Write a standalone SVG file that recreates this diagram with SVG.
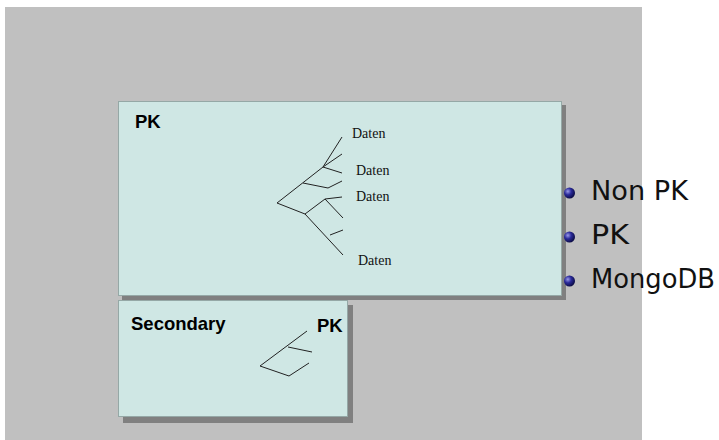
<svg xmlns="http://www.w3.org/2000/svg" width="719" height="440" viewBox="0 0 719 440">
<defs>
<radialGradient id="ball" cx="0.35" cy="0.35" r="0.7">
<stop offset="0" stop-color="#9a9ae8"/>
<stop offset="0.45" stop-color="#2a2a9a"/>
<stop offset="1" stop-color="#0a0a40"/>
</radialGradient>
<style>
.box{fill:#cfe7e4;stroke:#95a8a6;stroke-width:1}
.shadow{fill:#808080}
.t{stroke:#222;stroke-width:1;fill:none}
.lbl{font-family:"Liberation Sans",Arial,sans-serif;font-weight:bold;font-size:18.5px;fill:#000}
.dat{font-family:"Liberation Serif","Times New Roman",serif;font-size:14px;fill:#111}
.item{font-family:"DejaVu Sans","Liberation Sans",sans-serif;font-size:26px;fill:#111}
</style>
</defs>
<rect x="0" y="0" width="719" height="440" fill="#fff"/>
<rect x="5" y="7" width="637" height="433" fill="#c0c0c0"/>
<g id="pk-box">
<rect class="shadow" x="122" y="105" width="444" height="195"/>
<rect class="box" x="118.5" y="101.5" width="443" height="194"/>
<text class="lbl" x="135" y="128">PK</text>
<g id="pk-tree" class="t">
<path d="M277,203 L323,167 L342,137"/>
<path d="M323,167 L342,154"/>
<path d="M323,167 L342,173"/>
<path d="M303,183 L328,188 L342,181"/>
<path d="M277,203 L305,214 L325,199 L342,197"/>
<path d="M325,199 L343,218"/>
<path d="M305,214 L343,255"/>
<path d="M330,235 L343,230"/>
</g>
<text class="dat" x="352" y="138">Daten</text>
<text class="dat" x="356" y="175">Daten</text>
<text class="dat" x="356" y="201">Daten</text>
<text class="dat" x="358" y="265">Daten</text>
</g>
<g id="secondary-box">
<rect class="shadow" x="123" y="305" width="230" height="118"/>
<rect class="box" x="118.5" y="300.5" width="229" height="116"/>
<text class="lbl" x="131" y="330">Secondary</text>
<text class="lbl" x="317" y="332">PK</text>
<g id="sec-tree" class="t">
<path d="M307,331 L260,366 L289,376 L309,363"/>
<path d="M288,347 L312,352"/>
</g>
</g>
<g id="legend">
<circle cx="569.5" cy="193" r="5.5" fill="url(#ball)"/>
<circle cx="569.5" cy="237" r="5.5" fill="url(#ball)"/>
<circle cx="569.5" cy="281" r="5.5" fill="url(#ball)"/>
<text class="item" x="591" y="200" textLength="97" lengthAdjust="spacingAndGlyphs">Non PK</text>
<text class="item" x="591" y="244" textLength="38" lengthAdjust="spacingAndGlyphs">PK</text>
<text class="item" x="591" y="288" textLength="124" lengthAdjust="spacingAndGlyphs">MongoDB</text>
</g>
<g id="connectors"></g>
</svg>
